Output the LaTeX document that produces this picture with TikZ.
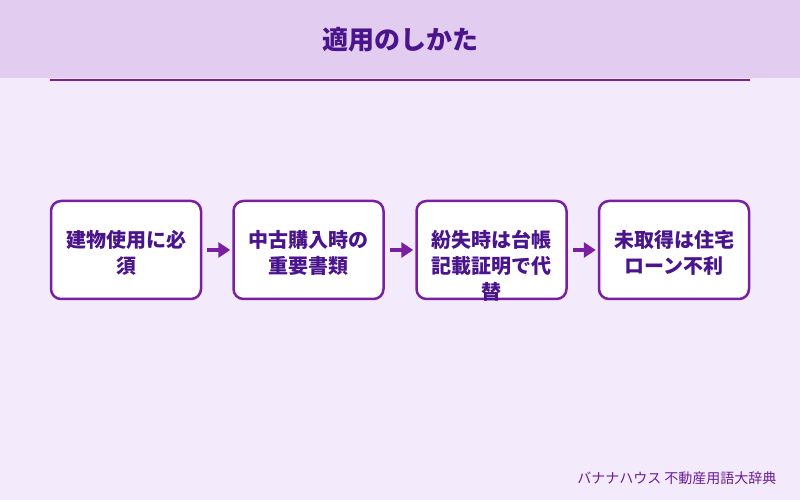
\documentclass[tikz,border=0pt]{standalone}
\usepackage{fontspec}
\setmainfont{Noto Sans CJK JP}
\usetikzlibrary{positioning,arrows.meta}
\definecolor{apbg}{HTML}{F3EBFC}
\definecolor{apband}{HTML}{E2CDF0}
\definecolor{apline}{HTML}{7B1FA2}
\definecolor{aptext}{HTML}{4A148C}
\definecolor{apfoot}{HTML}{6A1B9A}

\begin{document}
\begin{tikzpicture}[x=1pt, y=1pt,
    card/.style={draw=apline, line width=2.5pt, fill=white, rounded corners=10pt,
                 minimum width=150pt, minimum height=98pt, inner sep=0pt},
    cardtxt/.style={align=center, text=aptext, inner sep=0pt,
                    font=\fontsize{20}{26}\selectfont\bfseries},
    flow/.style={apline, line width=4.5pt, -{Triangle[length=12pt, width=15pt]}}]

\useasboundingbox (0,0) rectangle (800,500);
\fill[apbg] (0,0) rectangle (800,500);
\fill[apband] (0,422) rectangle (800,500);

% --- header -----------------------------------------------------------------
\node[text=aptext, font=\fontsize{26}{30}\selectfont\bfseries] (title) at (400,460) {適用のしかた};
\coordinate (ruleL) at (50,419.5);
\coordinate (ruleR) at (750,419.5);
\draw[apline, line width=2pt] (ruleL) -- (ruleR);

% --- steps -- index/centre x/label ------------------------------------------
\foreach \i/\cx/\text in {%
    1/126/{建物使用に必\\須},
    2/308.5/{中古購入時の\\重要書類},
    3/491.5/{紛失時は台帳\\記載証明で代\\替},
    4/674/{未取得は住宅\\ローン不利}}
{
  \node[card] (c\i) at (\cx,250) {};
  \node[cardtxt, below=30pt of c\i.north] (t\i) {\text};
}

\foreach \a/\b in {1/2, 2/3, 3/4}
  \draw[flow, shorten <=5pt, shorten >=2pt] (c\a.east) -- (c\b.west);

% --- footer -----------------------------------------------------------------
\node[anchor=east, text=apfoot, font=\fontsize{14}{16}\selectfont] (foot) at (780,22) {バナナハウス 不動産用語大辞典};
\end{tikzpicture}
\end{document}
